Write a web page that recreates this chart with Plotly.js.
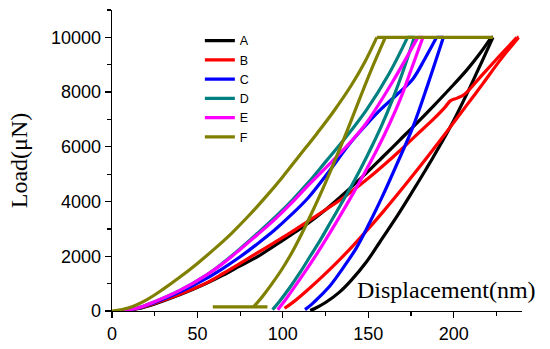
<!DOCTYPE html>
<html>
<head>
<meta charset="utf-8">
<script src="https://cdn.plot.ly/plotly-3.0.1.min.js"></script>
<style>html,body{margin:0;padding:0;background:#fff;}#chart{width:550px;height:349px;}</style>
</head>
<body>
<div id="chart"></div>
<script>
// Series names
const seriesNames = ["A", "B", "C", "D", "E", "F"];

// ---- A (black) ----
const A_loadDisp   = [6,15,25,40,55,65,75,85,95,105,115,125,135,147,158,168,178,188,198,208,215,222];
const A_loadForce  = [0,80,260,600,1000,1310,1650,1980,2380,2790,3220,3700,4240,4930,5600,6220,6840,7480,8140,8830,9380,10000];
const A_unloadDisp  = [223,217,208,198,188,184,176,168,157,149,140,133,125,119,116];
const A_unloadForce = [10000,9180,7970,6720,5620,5200,4380,3580,2540,1800,1120,680,310,100,20];
const A_holdDisp  = [222,223];
const A_holdForce = [10000,10000];

// ---- B (red) ----
const B_loadDisp   = [5,15,25,40,55,65,75,85,95,105,115,125,135,150,160,168,178,188,195,198,202,206,217,227,237];
const B_loadForce  = [0,90,280,620,1020,1370,1740,2120,2500,2880,3290,3700,4120,4850,5380,5830,6420,7000,7450,7680,7780,7900,8650,9330,10000];
const B_unloadDisp  = [238,227,217,208,198,188,180,168,159,150,141,133,124,114,107,101];
const B_unloadForce = [10000,9150,8300,7550,6720,5900,5260,4330,3650,3000,2380,1860,1310,740,370,100];
const B_holdDisp  = [237,238];
const B_holdForce = [10000,10000];

// ---- C (blue) ----
const C_loadDisp   = [5,15,25,40,55,65,75,85,95,105,115,127,139,148,157,167,176,183,190];
const C_loadForce  = [0,100,310,700,1180,1560,1980,2450,2950,3520,4150,5100,6100,6750,7350,7920,8470,9200,10000];
const C_unloadDisp  = [194,185,176,167,158,151,143,135,128,122,117,113];
const C_unloadForce = [10000,8300,6700,5400,4150,3250,2300,1550,950,550,250,50];
const C_holdDisp  = [190,194];
const C_holdForce = [10000,10000];

// ---- D (teal) ----
const D_loadDisp   = [5,15,25,40,55,65,75,85,95,105,115,125,135,149,162,173];
const D_loadForce  = [0,110,340,760,1300,1760,2280,2830,3400,4020,4700,5450,6200,7350,8650,10000];
const D_unloadDisp  = [177,170,164,158,152,146,140,134,128,122,116,110,104,98,94];
const D_unloadForce = [10000,8700,7700,6800,6000,5250,4550,3900,3250,2600,2000,1400,850,350,50];
const D_holdDisp  = [173,177];
const D_holdForce = [10000,10000];

// ---- E (magenta) ----
const E_loadDisp   = [5,15,25,40,55,65,75,85,95,105,115,129,140,149,164,179];
const E_loadForce  = [0,110,340,760,1300,1740,2250,2780,3330,3940,4600,5480,6200,6880,8350,10000];
const E_unloadDisp  = [182,175,169,162,155,148,141,134,127,120,114,108,102,97];
const E_unloadForce = [10000,8800,7780,6780,5880,5060,4280,3530,2800,2100,1530,980,450,50];
const E_holdDisp  = [179,182];
const E_holdForce = [10000,10000];

// ---- F (olive) ----
const F_loadDisp   = [0,10,20,30,40,50,60,70,80,90,100,110,120,130,140,148,155];
const F_loadForce  = [0,120,400,800,1250,1740,2270,2840,3480,4170,4910,5700,6490,7320,8240,9100,10000];
const F_unloadDisp  = [160,152,145,139,133,128,123.5,119,114,109,104,99,94,90,86.5,83];
const F_unloadForce = [10000,8850,7760,6800,5880,5130,4480,3860,3200,2570,1990,1480,1030,690,410,160];
// flat segment at peak load, and flat tail near zero load
const F_holdDisp  = [155,223,null,91,59];
const F_holdForce = [10000,10000,null,150,150];

const xTickVals = [0, 50, 100, 150, 200];
const yTickVals = [0, 2000, 4000, 6000, 8000, 10000];

const colors = ["#000000", "#ff0000", "#0000ff", "#008080", "#ff00ff", "#808000"];
const loadX = [A_loadDisp, B_loadDisp, C_loadDisp, D_loadDisp, E_loadDisp, F_loadDisp];
const loadY = [A_loadForce, B_loadForce, C_loadForce, D_loadForce, E_loadForce, F_loadForce];
const unX = [A_unloadDisp, B_unloadDisp, C_unloadDisp, D_unloadDisp, E_unloadDisp, F_unloadDisp];
const unY = [A_unloadForce, B_unloadForce, C_unloadForce, D_unloadForce, E_unloadForce, F_unloadForce];
const hX = [A_holdDisp, B_holdDisp, C_holdDisp, D_holdDisp, E_holdDisp, F_holdDisp];
const hY = [A_holdForce, B_holdForce, C_holdForce, D_holdForce, E_holdForce, F_holdForce];

const LW = 3.2;
const traces = [];
seriesNames.forEach((n, i) => {
  traces.push({x: loadX[i], y: loadY[i], name: n, type: "scatter", mode: "lines", showlegend: true,
               line: {color: colors[i], width: LW, shape: "spline", smoothing: 1}});
  traces.push({x: unX[i], y: unY[i], name: n, type: "scatter", mode: "lines", showlegend: false,
               line: {color: colors[i], width: LW, shape: "spline", smoothing: 1}});
  traces.push({x: hX[i], y: hY[i], name: n, type: "scatter", mode: "lines", showlegend: false,
               connectgaps: false, line: {color: colors[i], width: LW}});
});

const tickFont = {family: "Liberation Sans, Arial, sans-serif", size: 18, color: "#000"};
const serif = "Liberation Serif, Times New Roman, serif";

const layout = {
  width: 550, height: 349,
  margin: {l: 112, r: 28, t: 10, b: 38, pad: 0},
  paper_bgcolor: "#fff", plot_bgcolor: "#fff",
  showlegend: true,
  legend: {
    x: 0.2143, y: 0.947, xanchor: "left", yanchor: "top",
    bgcolor: "rgba(0,0,0,0)", borderwidth: 0, traceorder: "normal",
    font: {family: "Liberation Sans, Arial, sans-serif", size: 12.5, color: "#000"}
  },
  xaxis: {
    range: [0, 240], tickvals: xTickVals, ticktext: xTickVals.map(String),
    showgrid: false, zeroline: false, showline: true, linecolor: "#000", linewidth: 1.3,
    ticks: "outside", ticklen: 6, tickwidth: 1.3, tickcolor: "#000",
    minor: {dtick: 25, ticks: "outside", ticklen: 4, tickwidth: 1.2, tickcolor: "#000", showgrid: false},
    tickfont: tickFont, automargin: false
  },
  yaxis: {
    range: [0, 11000], tickvals: yTickVals, ticktext: yTickVals.map(String),
    showgrid: false, zeroline: false, showline: true, linecolor: "#000", linewidth: 1.3,
    ticks: "outside", ticklen: 6, tickwidth: 1.3, tickcolor: "#000",
    minor: {dtick: 1000, ticks: "outside", ticklen: 4, tickwidth: 1.2, tickcolor: "#000", showgrid: false},
    tickfont: tickFont, automargin: false,
    title: {text: "Load(μN)", font: {family: serif, size: 24, color: "#000"}, standoff: 16}
  },
  annotations: [{
    text: "Displacement(nm)", xref: "paper", yref: "paper",
    x: 0.817, y: 0.07, xanchor: "center", yanchor: "middle", showarrow: false,
    font: {family: serif, size: 24, color: "#000"}
  }]
};

Plotly.newPlot("chart", traces, layout, {displayModeBar: false, staticPlot: true});
</script>
</body>
</html>
